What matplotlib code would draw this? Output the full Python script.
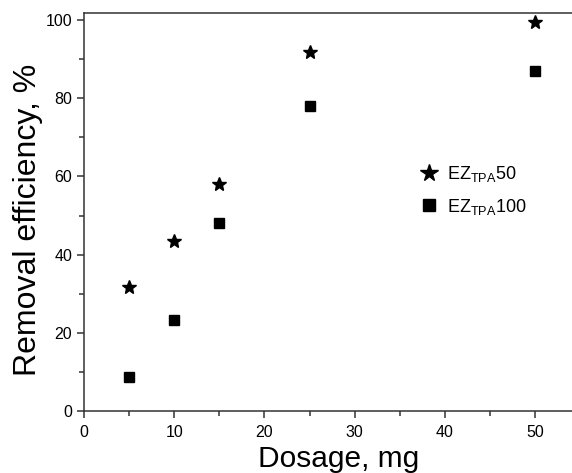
import matplotlib
matplotlib.use("Agg")
import matplotlib.pyplot as plt
from matplotlib.lines import Line2D
from matplotlib.ticker import MultipleLocator

plt.rcParams['font.family'] = ['Liberation Sans', 'DejaVu Sans']
plt.rcParams['mathtext.fontset'] = 'custom'
plt.rcParams['mathtext.rm'] = 'Liberation Sans'

# Dosage (mg) and removal efficiency (%)
dosage = [5, 10, 15, 25, 50]
ez_tpa50 = [31.8, 43.5, 58.2, 91.9, 99.4]
ez_tpa100 = [8.6, 23.4, 48.2, 78.0, 87.0]
series_labels = [r'EZ$_{\mathregular{TPA}}$50', r'EZ$_{\mathregular{TPA}}$100']

fig = plt.figure(figsize=(5.72, 4.73), dpi=100)
ax = fig.add_axes([84 / 572, 62 / 473, 1 - 84 / 572, (411 - 12.7) / 473])

ax.plot(dosage, ez_tpa50, linestyle='none', marker='*', markersize=10,
        color='black')
ax.plot(dosage, ez_tpa100, linestyle='none', marker='s', markersize=7.5,
        color='black')

ax.set_xlim(0, 54.1)
ax.set_ylim(0, 101.9)
ax.xaxis.set_major_locator(MultipleLocator(10))
ax.xaxis.set_minor_locator(MultipleLocator(5))
ax.yaxis.set_major_locator(MultipleLocator(20))
ax.yaxis.set_minor_locator(MultipleLocator(10))

spine_color = '#333333'
for side in ['left', 'bottom', 'top']:
    ax.spines[side].set_linewidth(1.1)
    ax.spines[side].set_color(spine_color)
ax.spines['right'].set_visible(False)

ax.tick_params(which='both', direction='out', color=spine_color, width=1.1,
               labelsize=11.5, top=False, right=False)
ax.tick_params(which='major', length=5)
ax.tick_params(axis='x', which='major', pad=5)
ax.tick_params(axis='y', which='major', pad=3.5)
ax.tick_params(which='minor', length=3.5)

ax.set_xlabel('Dosage, mg', fontsize=21.5, labelpad=3)
ax.xaxis.set_label_coords(0.5215, -0.085)
ax.xaxis.label.set_verticalalignment('top')
ax.set_ylabel('Removal efficiency, %', fontsize=23, labelpad=4)
ax.yaxis.set_label_coords(-0.085, 0.48)

handles = [
    Line2D([], [], linestyle='none', marker='*', markersize=13, color='black'),
    Line2D([], [], linestyle='none', marker='s', markersize=8.5, color='black'),
]
ax.legend(handles, series_labels, loc='upper left',
          bbox_to_anchor=((411 - 84) / 488, (411 - 155) / 398.3),
          frameon=False, fontsize=13, handlelength=1.0, handletextpad=0.5,
          labelspacing=0.7, borderpad=0)

fig.savefig('out.png', dpi=100)
